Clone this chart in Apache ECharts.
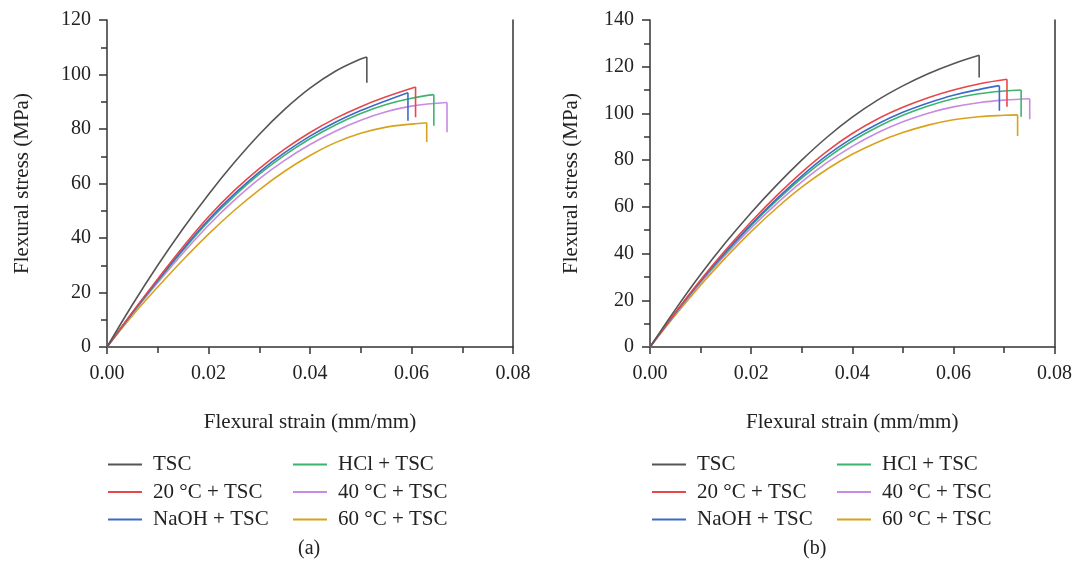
<!DOCTYPE html>
<html>
<head>
<meta charset="utf-8">
<script src="https://cdn.jsdelivr.net/npm/echarts@6/dist/echarts.min.js"></script>
<style>html,body{margin:0;padding:0;background:#fff}#c{width:1075px;height:565px}</style>
</head>
<body>
<div id="c"></div>
<script>
// ---- data ----
const seriesNames = ['TSC', '20 °C + TSC', 'NaOH + TSC', 'HCl + TSC', '40 °C + TSC', '60 °C + TSC'];
const seriesColors = ['#555555', '#e8474a', '#3a6cc6', '#3cb46e', '#c98ae2', '#d8a21c'];
const xTickLabels = ['0.00', '0.02', '0.04', '0.06', '0.08'];

// (a) strain, stress
const aTSC  = [[0,0],[0.005,15.5],[0.01,30],[0.015,43.5],[0.02,56],[0.025,67.5],[0.03,78],[0.035,87.2],[0.04,95],[0.045,101.2],[0.05,105.7],[0.0512,106.4]];
const a20   = [[0,0],[0.005,12.8],[0.01,25],[0.015,36.8],[0.02,47.8],[0.025,57.3],[0.03,65.5],[0.035,72.6],[0.04,78.7],[0.045,83.9],[0.05,88.2],[0.055,91.8],[0.0608,95.4]];
const aNaOH = [[0,0],[0.005,12.6],[0.01,24.5],[0.015,36],[0.02,46.7],[0.025,56],[0.03,64.2],[0.035,71.3],[0.04,77.4],[0.045,82.5],[0.05,86.8],[0.055,90.4],[0.0593,93.3]];
const aHCl  = [[0,0],[0.005,12.4],[0.01,24.2],[0.015,35.5],[0.02,46.1],[0.025,55.3],[0.03,63.4],[0.035,70.4],[0.04,76.4],[0.045,81.5],[0.05,85.7],[0.055,89],[0.06,91.3],[0.0644,92.6]];
const a40   = [[0,0],[0.005,12.2],[0.01,23.6],[0.015,34.5],[0.02,44.7],[0.025,53.7],[0.03,61.7],[0.035,68.5],[0.04,74.3],[0.045,79.2],[0.05,83.2],[0.055,86.3],[0.06,88.4],[0.067,89.7]];
const a60   = [[0,0],[0.005,11.5],[0.01,22],[0.015,32],[0.02,41.4],[0.025,50],[0.03,57.7],[0.035,64.5],[0.04,70.3],[0.045,75],[0.05,78.4],[0.055,80.7],[0.06,81.8],[0.063,82.3]];
const aDrop = [97, 84.3, 83, 81.2, 78.8, 75.2];

// (b) strain, stress
const bTSC  = [[0,0],[0.005,16],[0.01,31],[0.015,44.8],[0.02,57.5],[0.025,69.2],[0.03,80],[0.035,89.8],[0.04,98.4],[0.045,105.7],[0.05,111.8],[0.055,117],[0.06,121.3],[0.0651,124.9]];
const b20   = [[0,0],[0.005,14.8],[0.01,28.7],[0.015,41.6],[0.02,53.6],[0.025,64.7],[0.03,74.8],[0.035,83.8],[0.04,91.4],[0.045,97.6],[0.05,102.6],[0.055,106.7],[0.06,110],[0.065,112.6],[0.0706,114.6]];
const bNaOH = [[0,0],[0.005,14.6],[0.01,28.3],[0.015,40.8],[0.02,52.5],[0.025,63.3],[0.03,73.2],[0.035,82],[0.04,89.4],[0.045,95.5],[0.05,100.5],[0.055,104.5],[0.06,107.8],[0.065,110.2],[0.0691,111.9]];
const bHCl  = [[0,0],[0.005,14.4],[0.01,28],[0.015,40.3],[0.02,52],[0.025,62.6],[0.03,72.3],[0.035,80.9],[0.04,88.2],[0.045,94.2],[0.05,99.2],[0.055,103.2],[0.06,106.3],[0.065,108.4],[0.07,109.6],[0.0734,110]];
const b40   = [[0,0],[0.005,14.1],[0.01,27.5],[0.015,39.6],[0.02,51],[0.025,61.3],[0.03,70.7],[0.035,78.9],[0.04,85.9],[0.045,91.7],[0.05,96.4],[0.055,100.1],[0.06,102.8],[0.065,104.6],[0.07,105.7],[0.0751,106.3]];
const b60   = [[0,0],[0.005,13.6],[0.01,26.5],[0.015,38.3],[0.02,49.4],[0.025,59.4],[0.03,68.4],[0.035,76.1],[0.04,82.5],[0.045,87.7],[0.05,91.8],[0.055,95],[0.06,97.3],[0.065,98.6],[0.07,99.2],[0.0727,99.4]];
const bDrop = [115.4, 102.9, 101.2, 98.6, 97.5, 90.3];

const aCurves = [aTSC, a20, aNaOH, aHCl, a40, a60];
const bCurves = [bTSC, b20, bNaOH, bHCl, b40, b60];

// ---- chart ----
const FONT = 'Liberation Serif';
const TXT = '#222';
const AX = '#333';

function xAxisFor(gi) {
  return {
    type: 'value', gridIndex: gi, min: 0, max: 0.08, interval: 0.02,
    name: 'Flexural strain (mm/mm)', nameLocation: 'middle', nameGap: 65,
    nameTextStyle: {fontFamily: FONT, fontSize: 21, color: TXT},
    axisLine: {show: true, onZero: false, lineStyle: {color: AX, width: 1.5}},
    axisTick: {show: true, length: 7, lineStyle: {color: AX, width: 1.5}},
    minorTick: {show: true, splitNumber: 2, length: 6, lineStyle: {color: AX, width: 1.5}},
    splitLine: {show: false}, minorSplitLine: {show: false},
    axisLabel: {fontFamily: FONT, fontSize: 20, color: TXT, margin: 17,
      formatter: v => xTickLabels[Math.round(v / 0.02)]}
  };
}
function yAxisFor(gi, max, gap) {
  return {
    type: 'value', gridIndex: gi, min: 0, max: max, interval: 20,
    name: 'Flexural stress (MPa)', nameLocation: 'middle', nameGap: gap, nameRotate: 90,
    nameTextStyle: {fontFamily: FONT, fontSize: 21, color: TXT},
    axisLine: {show: true, onZero: false, lineStyle: {color: AX, width: 1.5}},
    axisTick: {show: true, length: 8, lineStyle: {color: AX, width: 1.5}},
    minorTick: {show: true, splitNumber: 2, length: 6, lineStyle: {color: AX, width: 1.5}},
    splitLine: {show: false}, minorSplitLine: {show: false},
    axisLabel: {fontFamily: FONT, fontSize: 20, color: TXT, margin: 16}
  };
}
function borderAxis(gi, max) {
  return {
    type: 'value', gridIndex: gi, min: 0, max: max, position: 'right',
    axisLine: {show: true, onZero: false, lineStyle: {color: AX, width: 1.5}},
    axisTick: {show: false}, axisLabel: {show: false}, splitLine: {show: false}
  };
}

const series = [];
[aCurves, bCurves].forEach((curves, gi) => {
  const drops = gi === 0 ? aDrop : bDrop;
  curves.forEach((pts, i) => {
    const common = {type: 'line', name: seriesNames[i], xAxisIndex: gi, yAxisIndex: gi,
      symbol: 'none', color: seriesColors[i], lineStyle: {width: 1.6, color: seriesColors[i]},
      z: 10 - i, animation: false};
    series.push(Object.assign({}, common, {data: pts, smooth: 0.4}));
    const last = pts[pts.length - 1];
    series.push(Object.assign({}, common, {data: [last, [last[0], drops[i]]], smooth: false}));
  });
});

function legendCol(names, left) {
  return {
    data: names, orient: 'vertical', left: left, top: 449,
    icon: 'rect', itemWidth: 34, itemHeight: 2, itemGap: 6.5,
    selectedMode: false,
    textStyle: {fontFamily: FONT, fontSize: 21, color: TXT, lineHeight: 20, padding: [0, 0, 0, 6]}
  };
}

const option = {
  backgroundColor: '#fff',
  animation: false,
  grid: [
    {left: 107, top: 20, width: 406, height: 327},
    {left: 650, top: 20, width: 407, height: 327}
  ],
  xAxis: [xAxisFor(0), xAxisFor(1)],
  yAxis: [yAxisFor(0, 120, 74), yAxisFor(1, 140, 68), borderAxis(0, 120), borderAxis(1, 140)],
  legend: [
    legendCol(seriesNames.slice(0, 3), 103),
    legendCol(seriesNames.slice(3, 6), 288),
    legendCol(seriesNames.slice(0, 3), 647),
    legendCol(seriesNames.slice(3, 6), 832)
  ],
  graphic: [
    {type: 'text', left: 298, top: 539, style: {text: '(a)', font: '20px "Liberation Serif"', fill: TXT}},
    {type: 'text', left: 803, top: 539, style: {text: '(b)', font: '20px "Liberation Serif"', fill: TXT}}
  ],
  series: series
};

const chart = echarts.init(document.getElementById('c'), null, {renderer: 'canvas'});
chart.setOption(option);
</script>
</body>
</html>
